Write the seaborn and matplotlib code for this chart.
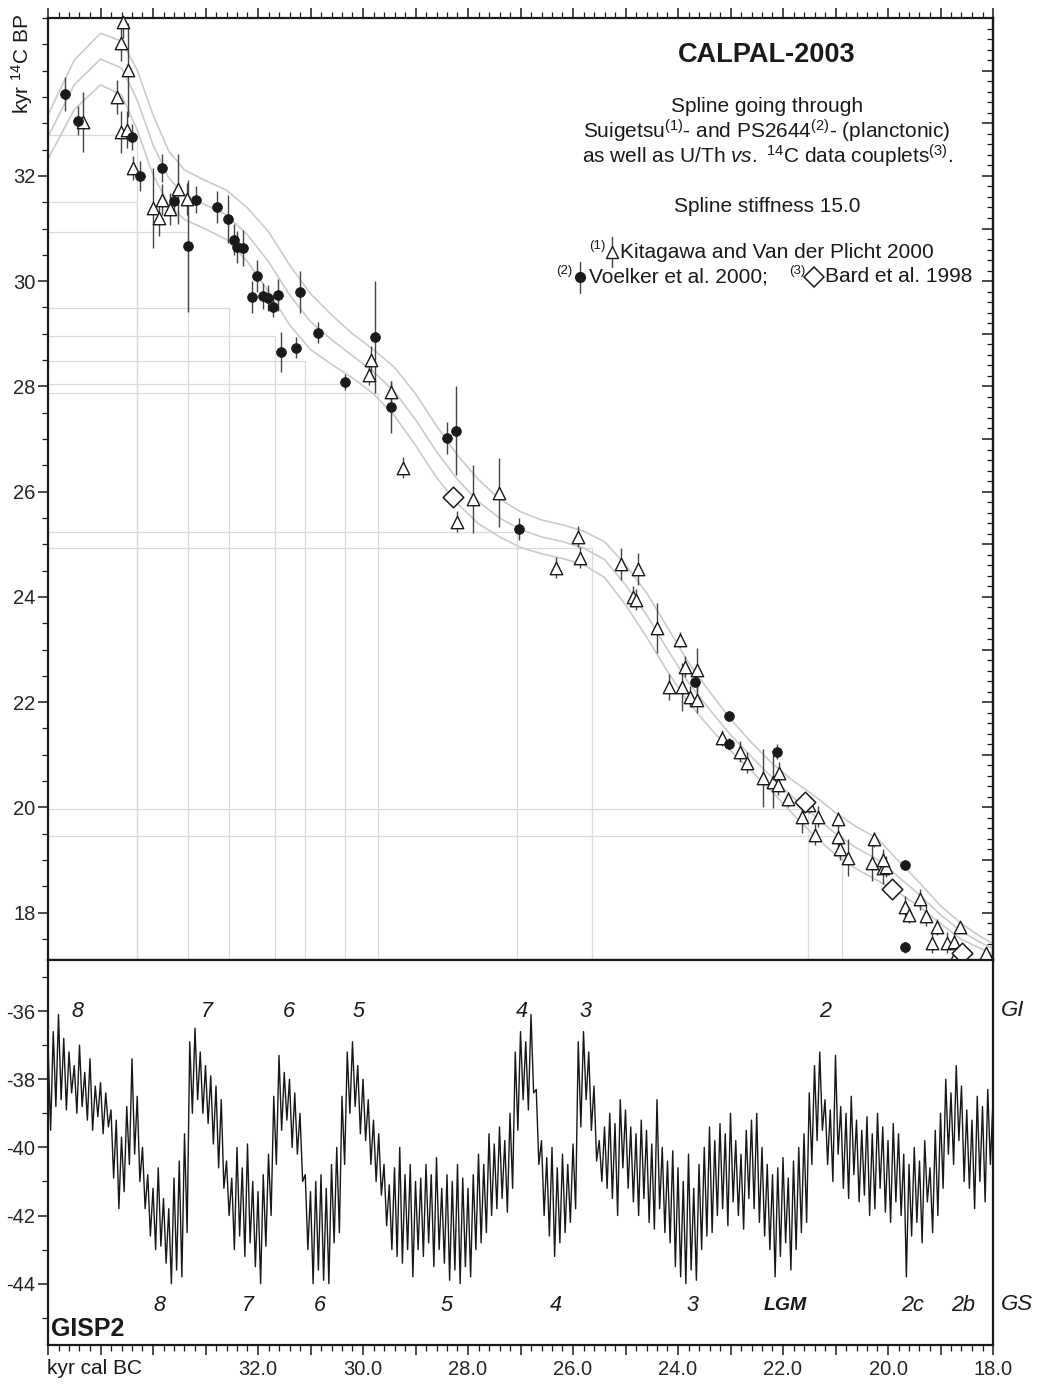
import matplotlib
matplotlib.use('Agg')
import numpy as np
import pandas as pd
import matplotlib.pyplot as plt
import seaborn as sns
from matplotlib.ticker import MultipleLocator, FixedLocator, FuncFormatter

# ---- spline (centre curve and half-width of the band), kyr cal BC vs kyr 14C BP
curve_x = [36.0, 35.5, 35.0, 34.6, 34.3, 34.0, 33.7, 33.4, 33.0, 32.6, 32.2, 31.8,
           31.4, 31.0, 30.6, 30.2, 29.8, 29.4, 29.0, 28.6, 28.2, 27.8, 27.4, 27.0,
           26.6, 26.2, 25.8, 25.4, 25.0, 24.6, 24.2, 23.8, 23.4, 23.0, 22.6, 22.2,
           21.8, 21.4, 21.0, 20.6, 20.2, 19.8, 19.4, 19.0, 18.6, 18.2, 18.0]
curve_mid = [32.74, 33.73, 34.22, 34.05, 33.44, 32.59, 31.96, 31.64, 31.45, 31.26, 30.88, 30.37,
             29.74, 29.23, 28.89, 28.58, 28.28, 27.90, 27.37, 26.76, 26.23, 25.81, 25.50, 25.28,
             25.14, 25.05, 24.93, 24.71, 24.23, 23.66, 23.00, 22.37, 21.86, 21.38, 20.96, 20.56,
             20.18, 19.84, 19.50, 19.23, 19.01, 18.68, 18.34, 17.96, 17.64, 17.41, 17.32]
curve_hw = [0.42, 0.47, 0.49, 0.51, 0.57, 0.57, 0.51, 0.47, 0.46, 0.47, 0.51, 0.57,
            0.57, 0.53, 0.47, 0.42, 0.42, 0.46, 0.49, 0.49, 0.46, 0.42, 0.36, 0.34,
            0.32, 0.32, 0.32, 0.34, 0.38, 0.42, 0.42, 0.38, 0.34, 0.30, 0.27, 0.27,
            0.32, 0.38, 0.40, 0.40, 0.40, 0.30, 0.23, 0.17, 0.15, 0.11, 0.10]

# ---- Kitagawa and Van der Plicht 2000 (triangles)
tri_x = [34.57, 34.61, 34.48, 34.69, 35.33, 34.61, 34.50, 34.38, 34.00, 33.89, 33.83, 33.68,
         33.52, 33.35, 29.85, 29.89, 29.47, 29.24, 28.21, 27.90, 27.41, 25.90, 26.32, 25.87,
         25.09, 24.76, 24.86, 24.80, 24.40, 23.96, 23.87, 23.64, 24.17, 23.92, 23.77, 23.64,
         23.16, 22.82, 22.69, 22.38, 22.19, 22.08, 22.10, 21.90, 21.64, 21.50, 21.39, 21.33,
         20.95, 20.95, 20.91, 20.76, 20.27, 20.30, 20.10, 20.04, 20.10, 19.68, 19.60, 19.39,
         19.28, 19.07, 19.16, 18.88, 18.74, 18.63, 18.69, 18.13]
tri_y = [34.92, 34.53, 34.01, 33.50, 33.03, 32.84, 32.88, 32.15, 31.39, 31.20, 31.55, 31.37,
         31.75, 31.56, 28.51, 28.22, 27.90, 26.45, 25.43, 25.86, 25.98, 25.14, 24.55, 24.74,
         24.63, 24.53, 24.00, 23.95, 23.41, 23.19, 22.67, 22.62, 22.29, 22.29, 22.10, 22.05,
         21.32, 21.06, 20.85, 20.56, 20.49, 20.66, 20.43, 20.15, 19.82, 20.05, 19.48, 19.82,
         19.77, 19.44, 19.20, 19.04, 19.39, 18.95, 18.85, 18.87, 19.00, 18.11, 17.96, 18.25,
         17.94, 17.73, 17.43, 17.43, 17.45, 17.73, 17.24, 17.24]
tri_err = [0.30, 0.35, 0.90, 0.33, 0.57, 0.40, 0.35, 0.22, 0.76, 0.35, 0.30, 0.30,
           0.67, 0.30, 0.25, 0.20, 0.20, 0.20, 0.20, 0.65, 0.65, 0.20, 0.20, 0.20,
           0.30, 0.30, 0.20, 0.20, 0.48, 0.15, 0.20, 0.40, 0.25, 0.45, 0.20, 0.25,
           0.15, 0.20, 0.20, 0.55, 0.50, 0.20, 0.20, 0.15, 0.30, 0.15, 0.20, 0.20,
           0.15, 0.20, 0.20, 0.35, 0.15, 0.35, 0.30, 0.20, 0.20, 0.20, 0.15, 0.20,
           0.20, 0.15, 0.20, 0.20, 0.15, 0.10, 0.15, 0.10]

# ---- Voelker et al. 2000 (filled circles)
dot_x = [35.68, 35.43, 34.40, 34.25, 33.83, 33.60, 33.33, 33.18, 32.78, 32.57, 32.46, 32.40,
         32.29, 32.02, 32.11, 31.90, 31.81, 31.62, 31.71, 31.20, 31.56, 31.28, 30.86, 30.34,
         29.77, 29.47, 28.40, 28.23, 27.03, 23.68, 23.03, 23.03, 22.11, 19.68, 19.68]
dot_y = [33.56, 33.05, 32.74, 32.00, 32.15, 31.53, 30.67, 31.55, 31.41, 31.18, 30.79, 30.65,
         30.63, 30.10, 29.70, 29.72, 29.68, 29.74, 29.51, 29.80, 28.66, 28.73, 29.02, 28.09,
         28.94, 27.61, 27.02, 27.16, 25.29, 22.39, 21.74, 21.21, 21.06, 18.91, 17.34]
dot_err = [0.32, 0.28, 0.25, 0.28, 0.27, 0.20, 1.25, 0.25, 0.30, 0.45, 0.30, 0.30,
           0.35, 0.30, 0.30, 0.25, 0.25, 0.30, 0.20, 0.40, 0.38, 0.20, 0.20, 0.15,
           1.07, 0.50, 0.30, 0.85, 0.20, 0.10, 0.10, 0.10, 0.15, 0.05, 0.10]

# ---- Bard et al. 1998 (diamonds)
dia_x = [28.29, 21.58, 19.92, 18.59]
dia_y = [25.90, 20.11, 18.44, 17.24]

# ---- faint guide lines (cal age, 14C age) of the GI boundaries
guide_x = [34.30, 34.30, 33.33, 32.55, 31.68, 31.11, 30.35, 29.71, 27.07, 25.64, 21.52, 20.88]
guide_y = [32.78, 31.51, 30.93, 29.49, 28.96, 28.49, 28.04, 27.88, 25.24, 24.92, 19.96, 19.46]

# ---- GISP2 d18O, upper and lower edge of the trace every 0.1 kyr (36.0 ... 18.0)
gisp_kyr = np.round(np.linspace(36.0, 18.0, 181), 1)
gisp_hi = [-37.0, -36.6, -36.1, -36.8, -37.2, -37.6, -37.0, -37.8, -37.4, -38.2,
           -38.1, -38.4, -38.9, -39.2, -39.7, -38.8, -37.4, -38.5, -40.0, -40.8,
           -41.2, -40.6, -41.5, -41.8, -40.9, -40.4, -39.6, -36.9, -36.5, -37.2,
           -37.6, -37.9, -38.2, -38.6, -40.4, -40.9, -40.0, -40.6, -39.9, -41.0,
           -41.3, -40.8, -40.2, -38.5, -37.3, -37.8, -38.0, -38.4, -39.0, -40.8,
           -41.3, -41.0, -40.8, -41.2, -40.5, -40.0, -38.5, -37.2, -36.9, -37.6,
           -38.0, -38.6, -39.2, -39.6, -40.5, -41.1, -40.6, -40.0, -40.8, -40.5,
           -41.0, -40.9, -40.5, -40.8, -40.3, -41.2, -40.8, -41.0, -40.5, -40.9,
           -41.2, -40.8, -40.2, -40.5, -39.6, -39.9, -39.4, -39.8, -39.0, -37.2,
           -36.6, -36.9, -36.1, -38.3, -39.8, -40.3, -40.0, -40.6, -40.2, -40.5,
           -39.9, -36.9, -36.6, -37.2, -38.2, -39.8, -39.4, -39.0, -39.3, -38.6,
           -38.9, -39.4, -39.6, -39.2, -39.5, -39.9, -38.6, -40.0, -40.4, -40.1,
           -40.6, -41.0, -40.2, -41.2, -40.5, -40.0, -39.4, -39.8, -39.3, -39.6,
           -39.0, -39.8, -40.2, -39.5, -39.2, -39.0, -40.0, -40.5, -40.8, -40.6,
           -40.3, -40.9, -40.4, -40.0, -39.6, -38.4, -37.6, -37.2, -38.6, -38.9,
           -37.3, -38.8, -39.0, -38.5, -39.2, -39.5, -39.1, -39.6, -39.0, -39.4,
           -39.8, -39.3, -39.6, -40.2, -40.5, -40.0, -40.4, -39.8, -40.6, -39.5,
           -39.0, -38.0, -38.4, -37.6, -38.2, -38.9, -39.2, -38.5, -38.8, -38.3, -38.6]
gisp_lo = [-39.5, -38.8, -38.6, -38.9, -38.4, -39.0, -38.8, -39.2, -39.5, -39.1,
           -39.6, -39.4, -40.9, -41.8, -41.3, -40.5, -40.2, -41.0, -41.8, -42.6,
           -43.0, -42.9, -43.4, -44.0, -43.6, -43.8, -42.5, -39.0, -38.6, -39.0,
           -39.3, -39.9, -40.6, -41.2, -42.0, -43.0, -42.6, -43.2, -42.8, -43.5,
           -44.0, -42.9, -42.0, -40.5, -39.5, -39.2, -40.0, -40.2, -41.0, -43.0,
           -44.0, -43.6, -43.9, -44.0, -42.8, -42.5, -40.5, -39.0, -38.8, -39.6,
           -39.8, -40.5, -41.0, -41.4, -42.3, -43.0, -43.2, -43.4, -43.0, -43.8,
           -43.0, -43.2, -42.8, -43.5, -43.0, -43.4, -43.9, -43.6, -44.0, -43.5,
           -43.8, -43.0, -42.8, -42.5, -42.0, -41.8, -41.5, -41.9, -41.2, -39.5,
           -38.6, -38.9, -38.4, -40.5, -42.0, -42.6, -43.2, -42.8, -42.5, -42.2,
           -41.8, -39.4, -38.6, -39.5, -40.4, -41.0, -41.2, -41.5, -42.0, -40.6,
           -41.2, -41.6, -42.0, -41.5, -42.2, -42.4, -41.8, -42.5, -42.8, -43.5,
           -43.8, -44.0, -43.6, -43.9, -43.0, -42.6, -42.5, -42.0, -41.8, -42.3,
           -41.6, -42.0, -42.4, -41.5, -41.8, -42.2, -42.6, -43.0, -43.8, -43.2,
           -42.8, -43.6, -43.0, -42.5, -42.2, -40.5, -39.8, -39.5, -40.5, -41.0,
           -40.2, -41.2, -41.5, -40.8, -41.6, -41.4, -42.0, -41.8, -41.2, -41.9,
           -42.2, -41.6, -42.0, -43.8, -42.6, -42.2, -42.8, -41.6, -42.5, -42.0,
           -41.2, -40.2, -40.5, -39.8, -41.0, -41.2, -41.8, -41.0, -41.6, -40.5, -41.2]

gi_labels = ['8', '7', '6', '5', '4', '3', '2']
gi_pos = [35.43, 32.97, 31.41, 30.08, 26.97, 25.77, 21.20]
gs_labels = ['8', '7', '6', '5', '4', '3', 'LGM', '2c', '2b']
gs_pos = [33.87, 32.19, 30.82, 28.40, 26.32, 23.73, 21.96, 19.54, 18.57]
x_tick_labels = {32: '32.0', 30: '30.0', 28: '28.0', 26: '26.0', 24: '24.0', 22: '22.0',
                 20: '20.0', 18: '18.0'}
y14_ticks = [18, 20, 22, 24, 26, 28, 30, 32]
d18o_ticks = [-44, -42, -40, -38, -36]

sns.set_style('ticks')
plt.rcParams['font.family'] = ['Liberation Sans', 'DejaVu Sans']
plt.rcParams['mathtext.fontset'] = 'custom'
plt.rcParams['mathtext.rm'] = 'Liberation Sans'
plt.rcParams['mathtext.it'] = 'Liberation Sans:italic'
plt.rcParams['mathtext.bf'] = 'Liberation Sans:bold'

W, H = 1037, 1385
fig = plt.figure(figsize=(W / 100, H / 100), dpi=100)
fig.patch.set_facecolor('white')


def fx(px):
    return px / W


def fy(py):
    return 1 - py / H


ax1 = fig.add_axes([fx(48), fy(960), 945 / W, 942 / H])
ax2 = fig.add_axes([fx(48), fy(1345), 945 / W, 385 / H])
ink = '#1a1a1a'

# ---------------- upper panel ----------------
XMIN, XMAX = 36.0, 18.0
YMIN, YMAX = 17.1, 35.0
for gx, gy in zip(guide_x, guide_y):
    ax1.plot([gx, gx], [YMIN, gy], color='#dadae2', lw=0.9, zorder=0.5)
    ax1.plot([XMIN, gx], [gy, gy], color='#dadae2', lw=0.9, zorder=0.5)

spline = pd.DataFrame({'kyr': curve_x, 'mid': curve_mid, 'hw': curve_hw})
spline['up'] = spline['mid'] + spline['hw']
spline['lo'] = spline['mid'] - spline['hw']
for col in ['up', 'mid', 'lo']:
    sns.lineplot(data=spline, x='kyr', y=col, ax=ax1, color='#cacad3', lw=1.2,
                 sort=False, estimator=None, zorder=1)

ax1.errorbar(tri_x, tri_y, yerr=tri_err, fmt='none', ecolor='#444444', elinewidth=1.0,
             capsize=0, zorder=2)
ax1.errorbar(dot_x, dot_y, yerr=dot_err, fmt='none', ecolor='#444444', elinewidth=1.0,
             capsize=0, zorder=2)
sns.scatterplot(x=tri_x, y=tri_y, ax=ax1, marker='^', s=80, facecolor='white',
                edgecolor=ink, linewidth=1.0, zorder=3, clip_on=False)
sns.scatterplot(x=dot_x, y=dot_y, ax=ax1, marker='o', s=50, color=ink,
                edgecolor=ink, linewidth=0.5, zorder=4)
sns.scatterplot(x=dia_x, y=dia_y, ax=ax1, marker='D', s=110, facecolor='white',
                edgecolor=ink, linewidth=1.1, zorder=5)

ax1.set_xlim(XMIN, XMAX)
ax1.set_ylim(YMIN, YMAX)
ax1.set_xlabel('')
ax1.set_ylabel('')
ax1.xaxis.set_major_locator(MultipleLocator(1))
ax1.xaxis.set_minor_locator(MultipleLocator(0.2))
ax1.tick_params(axis='x', which='both', direction='out', top=True, bottom=True,
                labelbottom=False, labeltop=False, color=ink)
ax1.tick_params(axis='x', which='major', length=7, width=1.1)
ax1.tick_params(axis='x', which='minor', length=4, width=0.9)
ax1.yaxis.set_major_locator(FixedLocator(y14_ticks))
ax1.yaxis.set_minor_locator(MultipleLocator(0.5))
ax1.yaxis.set_major_formatter(FuncFormatter(lambda v, p: f'{v:.0f}'))
ax1.tick_params(axis='y', which='both', direction='out', left=True, right=False,
                labelsize=14.5, color=ink, pad=2)
ax1.tick_params(axis='y', which='major', length=7, width=1.1)
ax1.tick_params(axis='y', which='minor', length=4, width=0.9)
sec = ax1.secondary_yaxis('right')
sec.yaxis.set_major_locator(MultipleLocator(1))
sec.yaxis.set_minor_locator(MultipleLocator(0.2))
sec.tick_params(axis='y', which='both', direction='in', labelright=False, color=ink)
sec.tick_params(axis='y', which='major', length=8, width=1.1)
sec.tick_params(axis='y', which='minor', length=4, width=0.9)
sec.spines['right'].set_linewidth(1.6)
for sp in ax1.spines.values():
    sp.set_linewidth(1.6)
    sp.set_color(ink)

# ---------------- lower panel ----------------
trace_x = np.empty(2 * len(gisp_kyr))
trace_y = np.empty(2 * len(gisp_kyr))
trace_x[0::2] = gisp_kyr
trace_x[1::2] = gisp_kyr - 0.05
trace_y[0::2] = gisp_hi
trace_y[1::2] = gisp_lo
gisp = pd.DataFrame({'kyr': trace_x, 'd18o': trace_y})
sns.lineplot(data=gisp, x='kyr', y='d18o', ax=ax2, color='#181818', lw=1.0,
             sort=False, estimator=None)
ax2.set_xlim(XMIN, XMAX)
ax2.set_ylim(-45.8, -34.5)
ax2.set_xlabel('')
ax2.set_ylabel('')
ax2.xaxis.set_major_locator(MultipleLocator(1))
ax2.xaxis.set_minor_locator(MultipleLocator(0.2))
ax2.xaxis.set_major_formatter(FuncFormatter(lambda v, p: x_tick_labels.get(int(round(v)), '')))
ax2.tick_params(axis='x', which='both', direction='out', top=False, bottom=True,
                labelsize=14.5, color=ink, pad=4)
ax2.tick_params(axis='x', which='major', length=7, width=1.1)
ax2.tick_params(axis='x', which='minor', length=4, width=0.9)
ax2.yaxis.set_major_locator(FixedLocator(d18o_ticks))
ax2.yaxis.set_minor_locator(MultipleLocator(1))
ax2.yaxis.set_major_formatter(FuncFormatter(lambda v, p: f'{v:.0f}'))
ax2.tick_params(axis='y', which='both', direction='out', left=True, right=False,
                labelsize=14.5, color=ink, pad=2)
ax2.tick_params(axis='y', which='major', length=7, width=1.1)
ax2.tick_params(axis='y', which='minor', length=4, width=0.9)
for sp in ax2.spines.values():
    sp.set_linewidth(1.6)
    sp.set_color(ink)

for lab, pos in zip(gi_labels, gi_pos):
    ax2.text(pos, -36.0, lab, ha='center', va='center', fontsize=15.5, style='italic',
             color=ink)
for lab, pos in zip(gs_labels, gs_pos):
    bold = 'bold' if lab == 'LGM' else 'normal'
    ax2.text(pos, -44.65, lab, ha='center', va='center', fontsize=15.5 if lab != 'LGM' else 14,
             style='italic', weight=bold, color=ink)
fig.text(fx(1001), fy(1010), 'GI', ha='left', va='center', fontsize=16, style='italic', color=ink)
fig.text(fx(1001), fy(1305), 'GS', ha='left', va='center', fontsize=16, style='italic', color=ink)
fig.text(fx(51), fy(1329), 'GISP2', ha='left', va='center', fontsize=18, weight='bold', color=ink)
fig.text(fx(47), fy(1368), 'kyr cal BC', ha='left', va='center', fontsize=15, color=ink)
fig.text(fx(22), fy(64), 'kyr $^{14}$C BP', rotation=90, ha='center', va='center',
         fontsize=15, color=ink)

# ---------------- annotation block ----------------
cx = fx(767)
fig.text(cx, fy(55), 'CALPAL-2003', ha='center', va='center', fontsize=19.5, weight='bold',
         color=ink)
fig.text(cx, fy(106), 'Spline going through', ha='center', va='center', fontsize=15, color=ink)
fig.text(cx, fy(131), r'Suigetsu$^{(1)}$- and PS2644$^{(2)}$- (planctonic)', ha='center',
         va='center', fontsize=15, color=ink)
fig.text(cx, fy(156), r'as well as U/Th $\mathit{vs.}$ $^{14}$C data couplets$^{(3)}$.',
         ha='center', va='center', fontsize=15, color=ink)
fig.text(cx, fy(206), 'Spline stiffness 15.0', ha='center', va='center', fontsize=15, color=ink)

fig.text(fx(597), fy(246), '(1)', ha='center', va='center', fontsize=9.5, color=ink)
fig.text(fx(620), fy(252), 'Kitagawa and Van der Plicht 2000', ha='left', va='center',
         fontsize=15, color=ink)
fig.text(fx(564), fy(271), '(2)', ha='center', va='center', fontsize=9.5, color=ink)
fig.text(fx(589), fy(277), 'Voelker et al. 2000;', ha='left', va='center', fontsize=15, color=ink)
fig.text(fx(797), fy(271), '(3)', ha='center', va='center', fontsize=9.5, color=ink)
fig.text(fx(825), fy(277), 'Bard et al. 1998', ha='left', va='center', fontsize=15, color=ink)
for mx, my, e0, e1 in [(612, 252, 237, 267), (580, 277, 262, 293)]:
    fig.add_artist(plt.Line2D([fx(mx), fx(mx)], [fy(e0), fy(e1)], color='#444444', lw=1.0))
fig.add_artist(plt.Line2D([fx(612)], [fy(252)], marker='^', ms=9, mfc='white', mec=ink,
                          mew=1.0, ls='none'))
fig.add_artist(plt.Line2D([fx(580)], [fy(277)], marker='o', ms=7, mfc=ink, mec=ink,
                          ls='none'))
fig.add_artist(plt.Line2D([fx(814)], [fy(277)], marker='D', ms=10, mfc='white', mec=ink,
                          mew=1.1, ls='none'))

fig.savefig('out.png', dpi=100, facecolor='white')
